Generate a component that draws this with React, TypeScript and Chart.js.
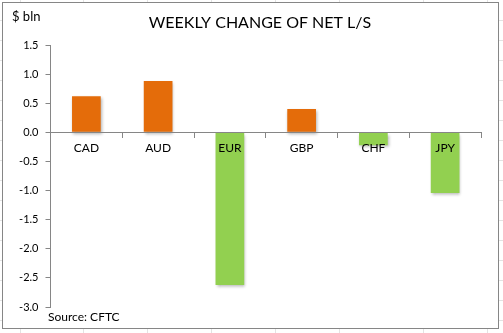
import React, { useEffect, useRef } from "react";
import { Chart, registerables } from "chart.js";

Chart.register(...registerables);

const categories = ["CAD", "AUD", "EUR", "GBP", "CHF", "JPY"];
const values = [0.62, 0.88, -2.62, 0.4, -0.22, -1.04];
const barColors = ["#E46C0A", "#E46C0A", "#92D050", "#E46C0A", "#92D050", "#92D050"];
const titleText = "WEEKLY CHANGE OF NET L/S";
const unitText = "$ bln";
const sourceText = "Source: CFTC";
const yMin = -3;
const yMax = 1.5;
const yStep = 0.5;

const FONT = "Lato, 'Open Sans', sans-serif";

export default function App() {
  const ref = useRef<HTMLCanvasElement | null>(null);

  useEffect(() => {
    document.body.style.margin = "0";
    const canvas = ref.current;
    if (!canvas) return;

    const decor = {
      id: "decor",
      beforeDraw(chart: any) {
        const ctx = chart.ctx;
        ctx.save();
        ctx.fillStyle = "#ffffff";
        ctx.fillRect(0, 0, chart.width, chart.height);
        ctx.strokeStyle = "#e3e3e3";
        ctx.lineWidth = 1;
        for (let y = 20.5; y < chart.height; y += 20) {
          ctx.beginPath();
          ctx.moveTo(0, y);
          ctx.lineTo(2, y);
          ctx.moveTo(499, y);
          ctx.lineTo(503, y);
          ctx.stroke();
        }
        const xs = [20.5, 83.5, 147.5, 211.5, 275.5, 339.5, 423.5, 487.5];
        for (const x of xs) {
          ctx.beginPath();
          ctx.moveTo(x, 0);
          ctx.lineTo(x, 2);
          ctx.moveTo(x, 329);
          ctx.lineTo(x, 333);
          ctx.stroke();
        }
        ctx.strokeStyle = "#868686";
        ctx.strokeRect(2.5, 2.5, 496, 326);
        ctx.fillStyle = "#000000";
        ctx.textBaseline = "middle";
        ctx.textAlign = "center";
        ctx.font = `16px ${FONT}`;
        ctx.fillText(titleText, 260, 23);
        ctx.textAlign = "left";
        ctx.font = `13px ${FONT}`;
        ctx.fillText(unitText, 12, 17);
        ctx.font = `12px ${FONT}`;
        ctx.fillText(sourceText, 48, 317);
        ctx.restore();
      },
      beforeDatasetsDraw(chart: any) {
        const ctx = chart.ctx;
        ctx.save();
        ctx.shadowColor = "rgba(0,0,0,0.3)";
        ctx.shadowBlur = 3;
        ctx.shadowOffsetX = 1;
        ctx.shadowOffsetY = 2;
      },
      afterDatasetsDraw(chart: any) {
        chart.ctx.restore();
      },
    };

    const chart = new Chart(canvas, {
      type: "bar",
      data: {
        labels: categories,
        datasets: [
          {
            data: values,
            backgroundColor: barColors,
            borderWidth: 0,
            barPercentage: 0.4,
            categoryPercentage: 1,
          },
        ],
      },
      options: {
        animation: false,
        responsive: false,
        maintainAspectRatio: false,
        devicePixelRatio: 1,
        layout: { padding: { left: 3, right: 22, top: 45, bottom: 26 } },
        plugins: {
          legend: { display: false },
          title: { display: false },
          tooltip: { enabled: false },
        },
        scales: {
          x: {
            type: "category",
            position: { y: 0 } as any,
            grid: {
              offset: true,
              drawOnChartArea: false,
              drawTicks: true,
              tickLength: 5,
              color: "#868686",
              z: 1,
            },
            border: { display: true, color: "#868686", width: 1, z: 1 },
            ticks: {
              z: 1,
              autoSkip: false,
              color: "#000000",
              font: { family: FONT, size: 12 },
              padding: 4,
              maxRotation: 0,
            },
          },
          y: {
            min: yMin,
            max: yMax,
            afterFit(scale: any) {
              scale.width = 47.5;
            },
            grid: {
              drawOnChartArea: false,
              drawTicks: true,
              tickLength: 5,
              color: "#868686",
            },
            border: { display: true, color: "#868686", width: 1 },
            ticks: {
              stepSize: yStep,
              color: "#000000",
              font: { family: FONT, size: 11 },
              padding: 7,
              callback: (v: any) => Number(v).toFixed(1),
            },
          },
        },
      },
      plugins: [decor],
    });

    return () => chart.destroy();
  }, []);

  return (
    <div style={{ width: 503, height: 333 }}>
      <canvas ref={ref} width={503} height={333} style={{ display: "block", width: 503, height: 333 }} />
    </div>
  );
}
